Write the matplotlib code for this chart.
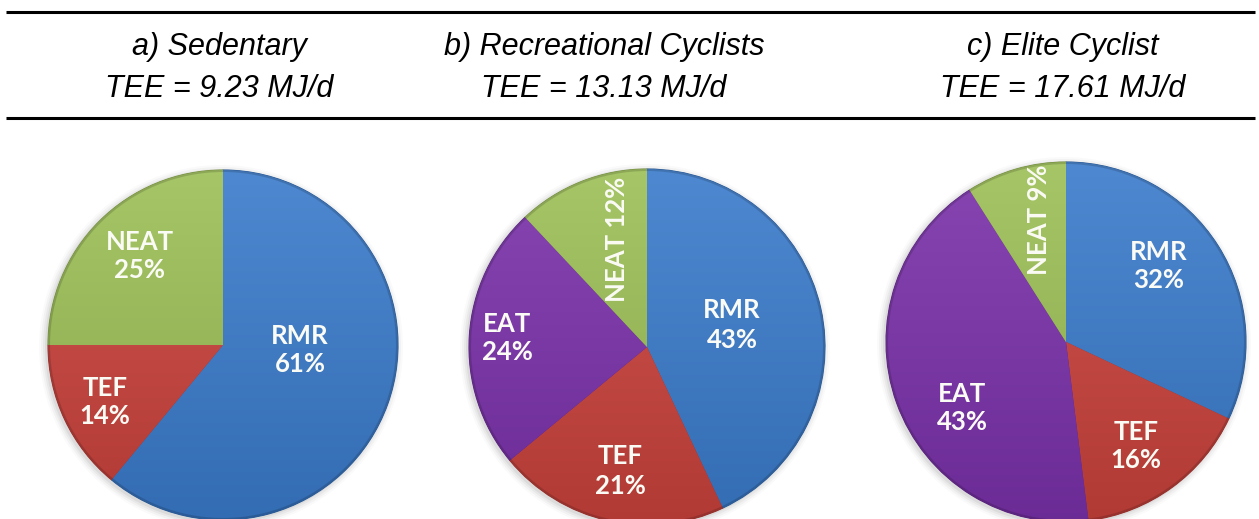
import numpy as np
import matplotlib
matplotlib.use("Agg")
import matplotlib.pyplot as plt
from matplotlib.colors import to_rgb

# ---- data ----
titles = ["a) Sedentary", "b) Recreational Cyclists", "c) Elite Cyclist"]
tee_values = [9.23, 13.13, 17.61]

labels_a = ["RMR", "TEF", "NEAT"]
values_a = [61, 14, 25]
labels_b = ["RMR", "TEF", "EAT", "NEAT"]
values_b = [43, 21, 24, 12]
labels_c = ["RMR", "TEF", "EAT", "NEAT"]
values_c = [32, 16, 43, 9]

colors = {"RMR": "#3A7BCB", "TEF": "#CA423C", "EAT": "#7A31AA", "NEAT": "#9CBF56"}

# ---- layout (pixel coords, top-down) ----
W, H = 1259, 519
pies = [
    dict(labels=labels_a, values=values_a, center=(223, 345), r=175,
         text=[(300, 350, 0, "\n"), (105, 402, 0, "\n"), (140, 256, 0, "\n")]),
    dict(labels=labels_b, values=values_b, center=(647, 347), r=178,
         text=[(732, 325, 0, "\n"), (620, 471, 0, "\n"), (507, 338, 0, "\n"), (617, 239, 90, " ")]),
    dict(labels=labels_c, values=values_c, center=(1066, 342), r=180,
         text=[(1159, 266, 0, "\n"), (1136, 446, 0, "\n"), (962, 408, 0, "\n"), (1039, 220, 90, " ")]),
]
title_x = [219, 604, 1063]

fig = plt.figure(figsize=(W / 100, H / 100), dpi=100)
ax = fig.add_axes([0, 0, 1, 1])
ax.axis("off")


def Y(y):
    return H - y


def shade(c, f):
    r, g, b = to_rgb(c)
    if f < 0:
        return (r * (1 + f), g * (1 + f), b * (1 + f))
    return (r + (1 - r) * f, g + (1 - g) * f, b + (1 - b) * f)


for p in pies:
    cx, cy = p["center"]
    r = p["r"]
    cols = [colors[l] for l in p["labels"]]
    for k, a in enumerate([0.05, 0.04, 0.03, 0.02]):
        ax.add_patch(plt.Circle((cx - 2, Y(cy) - 2), r + 1 + 2 * k, color=(0, 0, 0, a), lw=0, zorder=0.5))
    wedges, _ = ax.pie(p["values"], colors=cols, startangle=90, counterclock=False,
                       center=(cx, Y(cy)), radius=r, frame=True,
                       wedgeprops=dict(linewidth=0.8, edgecolor="none"))
    for w, c in zip(wedges, cols):
        top = shade(c, 0.10)
        bot = shade(c, -0.12)
        grad = np.linspace(0, 1, 256)[:, None]
        img = np.zeros((256, 2, 3))
        for k in range(3):
            img[:, :, k] = top[k] * (1 - grad) + bot[k] * grad
        im = ax.imshow(img, extent=(cx - r, cx + r, Y(cy) - r, Y(cy) + r), origin="upper",
                       aspect="auto", zorder=1.5, interpolation="bilinear")
        im.set_clip_path(w)
        w.set_edgecolor(shade(c, -0.25))
        w.set_zorder(1)
    ax.add_patch(plt.Circle((cx, Y(cy)), r - 1, fill=False, lw=1.5, ec=(0, 0, 0, 0.15), zorder=2))
    for (tx, ty, rot, sep), lab, v in zip(p["text"], p["labels"], p["values"]):
        ax.text(tx, Y(ty), f"{lab}{sep}{v}%", color="#FBFBF5", fontsize=18.5,
                fontfamily="Lato", fontweight="bold", ha="center", va="center",
                rotation=rot, linespacing=1.25, zorder=3)

ax.set_xlim(0, W)
ax.set_ylim(0, H)
ax.set_aspect("auto")

# header lines
for yl in (12, 118):
    ax.plot([6, 1255], [Y(yl), Y(yl)], color="black", lw=2.2, solid_capstyle="butt", zorder=4)

for x, t, v in zip(title_x, titles, tee_values):
    ax.text(x, Y(68), f"{t}\nTEE = {v:.2f} MJ/d", fontsize=22, style="italic",
            fontfamily="Liberation Sans", ha="center", va="center", linespacing=1.5, zorder=4)

fig.savefig("out.png", dpi=100)
